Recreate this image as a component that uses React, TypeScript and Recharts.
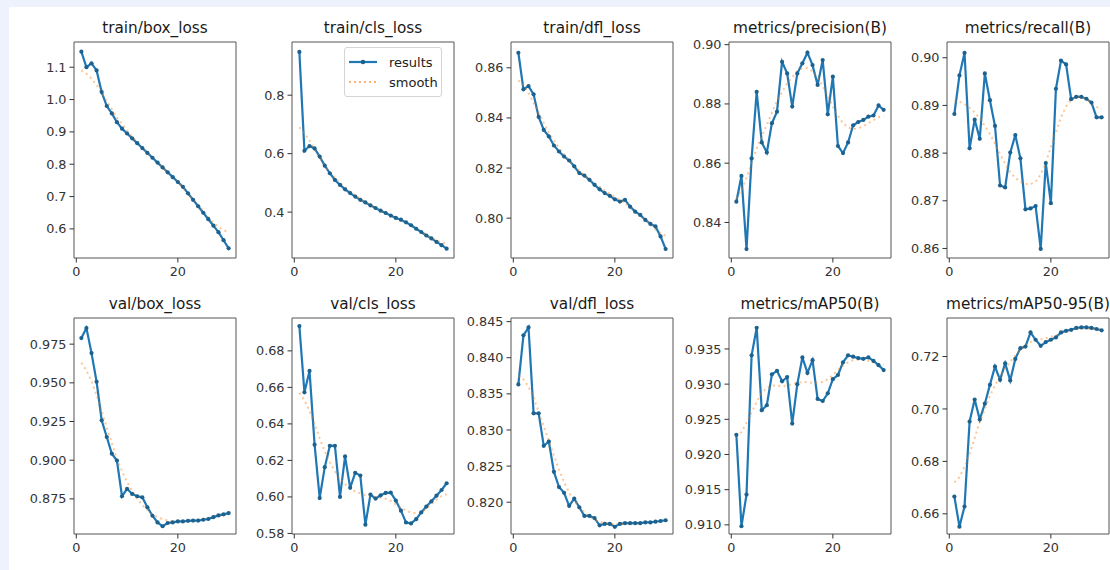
import React from 'react';
import { LineChart, Line, XAxis, YAxis, ReferenceArea } from 'recharts';

// epochs 1..30
const epochs = [1, 2, 3, 4, 5, 6, 7, 8, 9, 10, 11, 12, 13, 14, 15, 16, 17, 18, 19, 20, 21, 22, 23, 24, 25, 26, 27, 28, 29, 30];
const xTicks = [0, 20];

const trainBoxLoss = [1.148, 1.1, 1.112, 1.09, 1.023, 0.98, 0.957, 0.93, 0.91, 0.895, 0.88, 0.865, 0.85, 0.835, 0.82, 0.805, 0.79, 0.775, 0.76, 0.745, 0.73, 0.71, 0.69, 0.67, 0.65, 0.63, 0.61, 0.59, 0.565, 0.54];
const trainBoxLossSmooth = [1.09, 1.08, 1.065, 1.045, 1.02, 0.995, 0.97, 0.945, 0.925, 0.905, 0.885, 0.868, 0.852, 0.836, 0.82, 0.805, 0.79, 0.775, 0.76, 0.745, 0.728, 0.71, 0.692, 0.673, 0.655, 0.637, 0.62, 0.606, 0.596, 0.59];

const trainClsLoss = [0.948, 0.61, 0.626, 0.618, 0.59, 0.559, 0.533, 0.51, 0.493, 0.478, 0.465, 0.453, 0.442, 0.433, 0.423, 0.414, 0.405, 0.397, 0.388, 0.38, 0.374, 0.365, 0.355, 0.343, 0.332, 0.32, 0.31, 0.298, 0.287, 0.275];
const trainClsLossSmooth = [0.69, 0.67, 0.645, 0.615, 0.585, 0.56, 0.537, 0.518, 0.5, 0.484, 0.47, 0.457, 0.445, 0.435, 0.425, 0.415, 0.406, 0.397, 0.389, 0.38, 0.372, 0.364, 0.355, 0.345, 0.334, 0.323, 0.312, 0.303, 0.296, 0.292];

const trainDflLoss = [0.866, 0.8514, 0.8527, 0.8494, 0.8404, 0.8352, 0.8326, 0.829, 0.8266, 0.8246, 0.823, 0.8207, 0.818, 0.817, 0.8153, 0.8133, 0.8115, 0.81, 0.8089, 0.8075, 0.8066, 0.8073, 0.8046, 0.8026, 0.8013, 0.7993, 0.7977, 0.7967, 0.7927, 0.7877];
const trainDflLossSmooth = [0.855, 0.853, 0.85, 0.846, 0.842, 0.838, 0.834, 0.831, 0.828, 0.8255, 0.823, 0.821, 0.819, 0.817, 0.8155, 0.814, 0.8125, 0.811, 0.8098, 0.8085, 0.8072, 0.806, 0.8045, 0.803, 0.8013, 0.7995, 0.7975, 0.7955, 0.794, 0.793];

const precision = [0.847, 0.8557, 0.831, 0.8616, 0.8841, 0.867, 0.8636, 0.8735, 0.8774, 0.8942, 0.8903, 0.8791, 0.8903, 0.8937, 0.8973, 0.8931, 0.8864, 0.8948, 0.8765, 0.8892, 0.8658, 0.8634, 0.867, 0.8728, 0.8739, 0.8746, 0.8757, 0.8761, 0.8795, 0.878];
const precisionSmooth = [0.848, 0.851, 0.855, 0.86, 0.865, 0.869, 0.873, 0.877, 0.881, 0.884, 0.887, 0.889, 0.891, 0.892, 0.892, 0.891, 0.889, 0.886, 0.883, 0.879, 0.876, 0.8735, 0.872, 0.8715, 0.8718, 0.8725, 0.8735, 0.8745, 0.8755, 0.876];

const recall = [0.8882, 0.8963, 0.901, 0.881, 0.887, 0.883, 0.8967, 0.8911, 0.8857, 0.8732, 0.8728, 0.8801, 0.8838, 0.8789, 0.8682, 0.8684, 0.8689, 0.8599, 0.8779, 0.8695, 0.8935, 0.8994, 0.8986, 0.8913, 0.8918, 0.8918, 0.8914, 0.8906, 0.8875, 0.8875];
const recallSmooth = [0.891, 0.8908, 0.8903, 0.8895, 0.8885, 0.8872, 0.8857, 0.884, 0.882, 0.8798, 0.8778, 0.876, 0.8748, 0.874, 0.8735, 0.8735, 0.874, 0.8755, 0.878, 0.8812, 0.8845, 0.8875, 0.8898, 0.8912, 0.8918, 0.8918, 0.8913, 0.8905, 0.8897, 0.8892];

const valBoxLoss = [0.9789, 0.9854, 0.9692, 0.9507, 0.9258, 0.915, 0.9042, 0.8998, 0.8767, 0.8815, 0.8782, 0.8767, 0.876, 0.8696, 0.8641, 0.8598, 0.8573, 0.8594, 0.8598, 0.8604, 0.8604, 0.8608, 0.861, 0.861, 0.8615, 0.862, 0.8632, 0.8643, 0.865, 0.8658];
const valBoxLossSmooth = [0.963, 0.958, 0.951, 0.942, 0.932, 0.921, 0.911, 0.901, 0.893, 0.886, 0.88, 0.875, 0.871, 0.868, 0.865, 0.863, 0.862, 0.861, 0.8605, 0.8605, 0.8607, 0.861, 0.8613, 0.8617, 0.8622, 0.8628, 0.8634, 0.864, 0.8645, 0.8648];

const valClsLoss = [0.6936, 0.6573, 0.669, 0.6286, 0.5994, 0.6163, 0.628, 0.628, 0.6, 0.6222, 0.605, 0.6132, 0.6117, 0.5848, 0.6013, 0.5991, 0.6009, 0.6022, 0.6024, 0.598, 0.5925, 0.586, 0.5855, 0.5878, 0.5915, 0.5947, 0.5976, 0.6007, 0.6038, 0.6075];
const valClsLossSmooth = [0.657, 0.653, 0.647, 0.64, 0.632, 0.625, 0.619, 0.614, 0.61, 0.607, 0.605, 0.603, 0.602, 0.601, 0.6005, 0.6, 0.5995, 0.599, 0.5978, 0.596, 0.594, 0.5925, 0.5915, 0.591, 0.5915, 0.5935, 0.596, 0.5985, 0.6005, 0.6015];

const valDflLoss = [0.8363, 0.8431, 0.8442, 0.8323, 0.8323, 0.8278, 0.8284, 0.8242, 0.8221, 0.8213, 0.8195, 0.8205, 0.8193, 0.8181, 0.8181, 0.8178, 0.8168, 0.817, 0.817, 0.8166, 0.817, 0.8171, 0.8171, 0.8171, 0.8171, 0.8172, 0.8172, 0.8173, 0.8174, 0.8175];
const valDflLossSmooth = [0.8375, 0.837, 0.836, 0.8345, 0.8325, 0.8305, 0.8285, 0.8265, 0.8245, 0.8228, 0.8213, 0.8202, 0.8193, 0.8186, 0.818, 0.8176, 0.8173, 0.8171, 0.817, 0.817, 0.817, 0.817, 0.8171, 0.8171, 0.8171, 0.8172, 0.8172, 0.8173, 0.8173, 0.8174];

const map50 = [0.9228, 0.9098, 0.9143, 0.9341, 0.938, 0.9263, 0.927, 0.9314, 0.9319, 0.9304, 0.931, 0.9244, 0.93, 0.9338, 0.9316, 0.9334, 0.9279, 0.9276, 0.9287, 0.9307, 0.9313, 0.9331, 0.9341, 0.9339, 0.9337, 0.9336, 0.9338, 0.9333, 0.9327, 0.932];
const map50Smooth = [0.9225, 0.9232, 0.9245, 0.926, 0.9275, 0.9287, 0.9295, 0.9298, 0.9298, 0.9297, 0.9298, 0.93, 0.9302, 0.9303, 0.9303, 0.9302, 0.9302, 0.9303, 0.9307, 0.9313, 0.932, 0.9326, 0.9331, 0.9334, 0.9335, 0.9335, 0.9333, 0.9331, 0.9329, 0.9328];

const map5095 = [0.6666, 0.6551, 0.6628, 0.6952, 0.7036, 0.696, 0.702, 0.7092, 0.7162, 0.7111, 0.7174, 0.7109, 0.7191, 0.7232, 0.7238, 0.7292, 0.7264, 0.7241, 0.7255, 0.7264, 0.7273, 0.7292, 0.7298, 0.7302, 0.7309, 0.7311, 0.7311, 0.7309, 0.7305, 0.73];
const map5095Smooth = [0.672, 0.674, 0.678, 0.683, 0.689, 0.695, 0.7, 0.705, 0.709, 0.7125, 0.7155, 0.718, 0.7205, 0.7225, 0.7242, 0.7255, 0.7262, 0.7266, 0.727, 0.7275, 0.728, 0.7287, 0.7294, 0.73, 0.7304, 0.7307, 0.7307, 0.7306, 0.7304, 0.7303];

const panels = [
  { title: 'train/box_loss', results: trainBoxLoss, smooth: trainBoxLossSmooth, domain: [0.51, 1.178], ticks: [0.6, 0.7, 0.8, 0.9, 1.0, 1.1], digits: 1 },
  { title: 'train/cls_loss', results: trainClsLoss, smooth: trainClsLossSmooth, domain: [0.243, 0.982], ticks: [0.4, 0.6, 0.8], digits: 1 },
  { title: 'train/dfl_loss', results: trainDflLoss, smooth: trainDflLossSmooth, domain: [0.7841, 0.8703], ticks: [0.8, 0.82, 0.84, 0.86], digits: 2 },
  { title: 'metrics/precision(B)', results: precision, smooth: precisionSmooth, domain: [0.828, 0.9009], ticks: [0.84, 0.86, 0.88, 0.9], digits: 2 },
  { title: 'metrics/recall(B)', results: recall, smooth: recallSmooth, domain: [0.858, 0.9033], ticks: [0.86, 0.87, 0.88, 0.89, 0.9], digits: 2 },
  { title: 'val/box_loss', results: valBoxLoss, smooth: valBoxLossSmooth, domain: [0.8523, 0.9919], ticks: [0.875, 0.9, 0.925, 0.95, 0.975], digits: 3 },
  { title: 'val/cls_loss', results: valClsLoss, smooth: valClsLossSmooth, domain: [0.5797, 0.698], ticks: [0.58, 0.6, 0.62, 0.64, 0.66, 0.68], digits: 2 },
  { title: 'val/dfl_loss', results: valDflLoss, smooth: valDflLossSmooth, domain: [0.8156, 0.8455], ticks: [0.82, 0.825, 0.83, 0.835, 0.84, 0.845], digits: 3 },
  { title: 'metrics/mAP50(B)', results: map50, smooth: map50Smooth, domain: [0.9087, 0.9394], ticks: [0.91, 0.915, 0.92, 0.925, 0.93, 0.935], digits: 3 },
  { title: 'metrics/mAP50-95(B)', results: map5095, smooth: map5095Smooth, domain: [0.6523, 0.7347], ticks: [0.66, 0.68, 0.7, 0.72], digits: 2 },
];

const colLefts = [74, 292, 511, 729, 947];
const rowTops = [42, 318];
const plotW = 162;
const plotH = 216;
const padL = 60;
const padT = 10;
const padB = 34;
const font = "'DejaVu Sans', sans-serif";
const xDomain = [-0.45, 31.45];

function Panel({ p, left, top }: { p: any; left: number; top: number }) {
  const data = epochs.map((e, i) => ({ epoch: e, results: p.results[i], smooth: p.smooth[i] }));
  const tickStyle = { fontSize: 12.8, fill: '#333', fontFamily: font };
  return (
    <>
      <div
        style={{
          position: 'absolute',
          left: left - 50,
          top: top - 23,
          width: plotW + 100,
          textAlign: 'center',
          fontFamily: font,
          fontSize: 15.3,
          lineHeight: '18px',
          color: '#1a1a1a',
          whiteSpace: 'nowrap',
        }}
      >
        {p.title}
      </div>
      <div style={{ position: 'absolute', left: left - padL, top: top - padT }}>
        <LineChart
          width={plotW + padL + 6}
          height={plotH + padT + padB}
          data={data}
          margin={{ top: padT, right: 6, left: 0, bottom: 0 }}
        >
          <XAxis
            dataKey="epoch"
            type="number"
            domain={xDomain}
            ticks={xTicks}
            allowDataOverflow
            axisLine={false}
            tickLine={{ stroke: '#333' }}
            tickSize={4.5}
            tickMargin={4}
            tick={tickStyle}
            height={padB}
          />
          <YAxis
            type="number"
            domain={p.domain}
            ticks={p.ticks}
            allowDataOverflow
            axisLine={false}
            tickLine={{ stroke: '#333' }}
            tickSize={4.5}
            tickMargin={3}
            tick={tickStyle}
            width={padL}
            tickFormatter={(v: number) => v.toFixed(p.digits)}
          />
          <ReferenceArea
            x1={xDomain[0]}
            x2={xDomain[1]}
            y1={p.domain[0]}
            y2={p.domain[1]}
            fill="none"
            stroke="#555"
            strokeWidth={1}
          />
          <Line
            type="linear"
            dataKey="results"
            stroke="#1f77b4"
            strokeWidth={2.2}
            dot={{ r: 2.1, fill: '#1d628f', stroke: 'none' }}
            activeDot={false}
            isAnimationActive={false}
          />
          <Line
            type="linear"
            dataKey="smooth"
            stroke="#ff7f0e"
            strokeOpacity={0.45}
            strokeWidth={2}
            strokeDasharray="2 3.4"
            dot={false}
            activeDot={false}
            isAnimationActive={false}
          />
        </LineChart>
      </div>
    </>
  );
}

function LegendBox() {
  return (
    <div
      style={{
        position: 'absolute',
        left: 344,
        top: 47,
        width: 98,
        height: 50,
        boxSizing: 'border-box',
        border: '1px solid #d4d4d4',
        borderRadius: 3,
        background: 'rgba(255,255,255,0.85)',
        fontFamily: font,
        fontSize: 13,
        color: '#222',
      }}
    >
      {[
        { label: 'results', color: '#1f77b4', dash: undefined, dot: true },
        { label: 'smooth', color: '#ff7f0e', dash: '2 3', dot: false },
      ].map((item, i) => (
        <div key={item.label} style={{ position: 'absolute', left: 2, top: 6 + i * 20, height: 16, display: 'flex', alignItems: 'center' }}>
          <svg width={30} height={16} style={{ marginRight: 12 }}>
            <line x1={2} y1={8} x2={30} y2={8} stroke={item.color} strokeWidth={2.2} strokeDasharray={item.dash} strokeOpacity={item.dot ? 1 : 0.6} />
            {item.dot && <circle cx={16} cy={8} r={2.3} fill="#1d628f" />}
          </svg>
          <span>{item.label}</span>
        </div>
      ))}
    </div>
  );
}

export default function App() {
  return (
    <div style={{ position: 'absolute', left: 0, top: 0, width: 1110, height: 570, background: '#eef2fc', overflow: 'hidden' }}>
      <div style={{ position: 'absolute', left: 9, top: 7, width: 1101, height: 563, background: '#ffffff' }} />
      {panels.map((p, i) => (
        <Panel key={p.title} p={p} left={colLefts[i % 5]} top={rowTops[Math.floor(i / 5)]} />
      ))}
      <LegendBox />
    </div>
  );
}
